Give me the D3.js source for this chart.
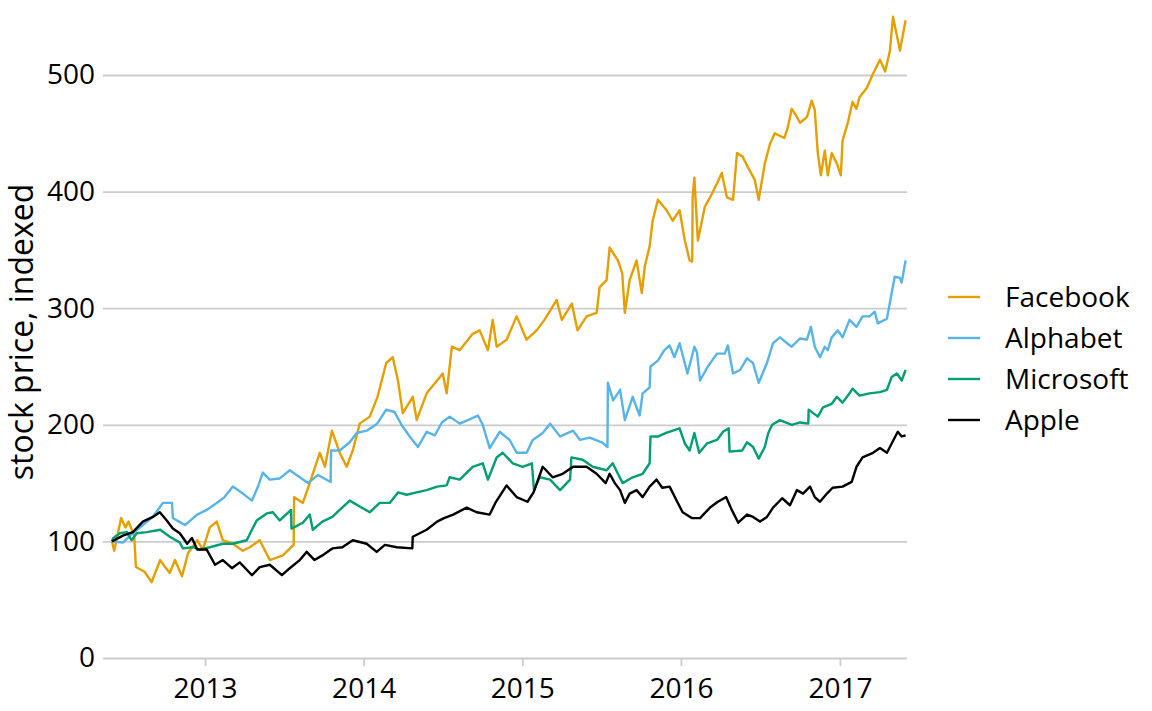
<!DOCTYPE html>
<html>
<head>
<meta charset="utf-8">
<script src="https://cdn.jsdelivr.net/npm/d3@7"></script>
<style>
  html, body { margin: 0; padding: 0; background: #fff; }
  svg text { font-family: "Open Sans", "Noto Sans", sans-serif; }
</style>
</head>
<body>
<svg id="chart" width="1152" height="711"></svg>
<script>
// ---------------- data ----------------
const seriesNames = ["Facebook", "Alphabet", "Microsoft", "Apple"];
const yTicks = [0, 100, 200, 300, 400, 500];
const xTickYears = ["2013", "2014", "2015", "2016", "2017"];
const yTitle = "stock price, indexed";

const facebook = [
["2012-06-01",100],["2012-06-06",92],["2012-06-22",120],["2012-07-02",112],["2012-07-09",117],["2012-07-22",105],["2012-07-26",78],["2012-08-15",74],["2012-08-31",65],["2012-09-20",84],["2012-10-01",78],["2012-10-12",73],["2012-10-24",84],["2012-11-09",70],["2012-11-23",90],["2012-12-14",101],["2012-12-27",93],["2013-01-12",112],["2013-01-28",117],["2013-02-11",101],["2013-03-06",98],["2013-03-29",92],["2013-04-14",95],["2013-05-07",101],["2013-05-30",84],["2013-06-29",88],["2013-07-24",97],["2013-07-25",138],["2013-08-14",133],["2013-08-30",150],["2013-09-22",176],["2013-10-04",164],["2013-10-20",195],["2013-11-07",176],["2013-11-23",164],["2013-12-07",178],["2013-12-23",201],["2014-01-15",207],["2014-02-02",224],["2014-02-22",253],["2014-03-09",258],["2014-03-21",238],["2014-04-01",210],["2014-04-24",224],["2014-05-03",204],["2014-05-26",227],["2014-06-19",238],["2014-07-02",244],["2014-07-11",227],["2014-07-23",267],["2014-08-10",264],["2014-09-09",278],["2014-09-25",281],["2014-10-14",264],["2014-10-25",290],["2014-11-03",267],["2014-11-26",273],["2014-12-19",293],["2015-01-11",273],["2015-02-03",281],["2015-02-21",290],["2015-03-21",307],["2015-04-02",290],["2015-04-25",304],["2015-05-08",281],["2015-05-29",293],["2015-06-21",296],["2015-06-28",318],["2015-07-14",324],["2015-07-21",352],["2015-08-09",341],["2015-08-19",330],["2015-08-25",296],["2015-09-05",324],["2015-09-21",341],["2015-10-03",313],["2015-10-10",336],["2015-10-21",353],["2015-10-28",375],["2015-11-09",393],["2015-11-29",384],["2015-12-13",375],["2015-12-29",384],["2016-01-10",358],["2016-01-21",341],["2016-01-27",340],["2016-01-28",395],["2016-02-01",412],["2016-02-09",358],["2016-02-25",387],["2016-03-08",395],["2016-03-24",407],["2016-04-04",416],["2016-04-16",395],["2016-04-30",393],["2016-05-09",433],["2016-05-22",430],["2016-06-03",421],["2016-06-19",410],["2016-06-28",393],["2016-07-12",424],["2016-07-24",441],["2016-08-04",450],["2016-08-26",446],["2016-09-03",455],["2016-09-12",471],["2016-09-24",464],["2016-10-01",459],["2016-10-17",464],["2016-10-28",478],["2016-11-04",470],["2016-11-11",433],["2016-11-18",414],["2016-11-27",435],["2016-12-04",414],["2016-12-13",433],["2016-12-25",424],["2017-01-03",414],["2017-01-07",444],["2017-01-19",459],["2017-01-30",477],["2017-02-08",471],["2017-02-15",481],["2017-03-04",489],["2017-03-18",501],["2017-04-03",513],["2017-04-15",503],["2017-04-26",521],["2017-05-03",550],["2017-05-19",521],["2017-06-01",547]
];

const alphabet = [
["2012-06-01",100],["2012-06-26",99],["2012-07-19",107],["2012-08-11",114],["2012-09-03",121],["2012-09-26",133],["2012-10-17",133],["2012-10-19",120],["2012-10-28",118],["2012-11-16",114],["2012-12-14",123],["2013-01-05",127],["2013-01-28",133],["2013-02-15",138],["2013-03-06",147],["2013-03-29",141],["2013-04-19",135],["2013-05-03",147],["2013-05-14",159],["2013-05-30",153],["2013-06-22",154],["2013-07-15",161],["2013-08-07",155],["2013-08-26",150],["2013-09-18",157],["2013-10-17",151],["2013-10-18",178],["2013-11-07",178],["2013-11-30",185],["2013-12-16",193],["2014-01-08",195],["2014-02-01",201],["2014-02-22",213],["2014-03-13",211],["2014-03-29",200],["2014-04-17",190],["2014-05-06",181],["2014-05-26",194],["2014-06-14",191],["2014-06-30",202],["2014-07-18",207],["2014-08-10",201],["2014-08-29",204],["2014-09-21",208],["2014-10-02",200],["2014-10-18",180],["2014-11-10",194],["2014-12-03",187],["2014-12-19",176],["2015-01-11",176],["2015-01-25",187],["2015-02-17",193],["2015-03-06",201],["2015-03-29",190],["2015-04-28",195],["2015-05-14",187],["2015-06-05",189],["2015-07-03",185],["2015-07-16",181],["2015-07-17",236],["2015-07-29",221],["2015-08-14",230],["2015-08-25",204],["2015-09-12",224],["2015-09-28",208],["2015-10-05",227],["2015-10-21",232],["2015-10-23",250],["2015-11-09",255],["2015-11-24",264],["2015-12-06",268],["2015-12-17",258],["2015-12-29",270],["2016-01-16",244],["2016-02-01",267],["2016-02-07",262],["2016-02-14",238],["2016-03-03",250],["2016-03-24",261],["2016-04-11",261],["2016-04-18",268],["2016-04-30",244],["2016-05-16",247],["2016-06-01",257],["2016-06-15",253],["2016-06-28",236],["2016-07-17",253],["2016-07-31",270],["2016-08-16",275],["2016-09-01",270],["2016-09-12",267],["2016-10-01",274],["2016-10-17",273],["2016-10-26",284],["2016-11-04",267],["2016-11-16",258],["2016-11-27",267],["2016-12-04",264],["2016-12-13",275],["2016-12-27",281],["2017-01-07",275],["2017-01-23",290],["2017-02-08",284],["2017-02-22",293],["2017-03-10",293],["2017-03-22",297],["2017-03-29",287],["2017-04-19",291],["2017-04-30",313],["2017-05-07",327],["2017-05-19",326],["2017-05-23",322],["2017-06-01",341]
];

const microsoft = [
["2012-06-01",100],["2012-06-04",103],["2012-06-19",107],["2012-07-05",108],["2012-07-16",101],["2012-07-28",107],["2012-08-20",108],["2012-09-20",110],["2012-10-12",104],["2012-11-04",99],["2012-11-11",94],["2012-12-04",95],["2012-12-20",93],["2013-01-12",95],["2013-02-11",98],["2013-03-06",98],["2013-04-07",101],["2013-04-19",110],["2013-04-30",118],["2013-05-23",124],["2013-06-06",125],["2013-06-22",118],["2013-07-18",127],["2013-07-19",111],["2013-08-14",116],["2013-08-30",123],["2013-09-06",110],["2013-09-28",117],["2013-10-21",121],["2013-11-07",127],["2013-11-30",135],["2013-12-23",130],["2014-01-15",125],["2014-02-07",133],["2014-03-02",133],["2014-03-21",142],["2014-04-10",140],["2014-05-03",142],["2014-05-26",144],["2014-06-19",147],["2014-07-11",148],["2014-07-18",155],["2014-08-10",153],["2014-09-09",164],["2014-10-02",167],["2014-10-14",153],["2014-11-03",172],["2014-11-17",176],["2014-12-10",167],["2015-01-02",164],["2015-01-23",167],["2015-01-28",144],["2015-02-10",155],["2015-03-06",153],["2015-03-29",144],["2015-04-21",153],["2015-04-24",172],["2015-05-20",170],["2015-06-12",164],["2015-07-14",161],["2015-07-28",167],["2015-08-20",150],["2015-09-12",155],["2015-10-05",158],["2015-10-21",167],["2015-10-23",190],["2015-11-10",190],["2015-11-28",193],["2015-12-29",197],["2016-01-10",184],["2016-01-21",178],["2016-02-01",193],["2016-02-12",176],["2016-03-01",184],["2016-03-24",187],["2016-04-07",194],["2016-04-20",197],["2016-04-22",177],["2016-05-21",178],["2016-06-01",185],["2016-06-15",181],["2016-06-28",171],["2016-07-12",181],["2016-07-20",193],["2016-07-29",200],["2016-08-16",204],["2016-09-12",200],["2016-10-01",202],["2016-10-20",201],["2016-10-21",213],["2016-11-11",207],["2016-11-23",215],["2016-12-13",218],["2016-12-25",224],["2017-01-07",219],["2017-01-23",227],["2017-01-30",231],["2017-02-15",225],["2017-03-10",227],["2017-04-03",228],["2017-04-19",230],["2017-04-30",241],["2017-05-12",244],["2017-05-23",238],["2017-06-01",247]
];

const apple = [
["2012-06-01",100],["2012-06-26",105],["2012-07-19",108],["2012-08-11",117],["2012-09-03",121],["2012-09-19",125],["2012-10-05",118],["2012-10-19",111],["2012-11-04",107],["2012-11-21",98],["2012-12-02",103],["2012-12-14",93],["2013-01-05",93],["2013-01-24",80],["2013-02-11",84],["2013-03-04",77],["2013-03-22",82],["2013-04-19",71],["2013-05-07",78],["2013-05-30",80],["2013-06-27",71],["2013-07-15",77],["2013-08-07",84],["2013-08-23",91],["2013-09-10",84],["2013-09-28",88],["2013-10-21",94],["2013-11-13",95],["2013-12-07",101],["2014-01-08",98],["2014-01-31",91],["2014-02-19",97],["2014-03-18",95],["2014-04-23",94],["2014-04-24",104],["2014-05-26",110],["2014-06-19",117],["2014-07-05",120],["2014-07-26",123],["2014-08-26",129],["2014-09-18",125],["2014-10-18",123],["2014-10-31",133],["2014-11-26",148],["2014-12-19",138],["2015-01-13",134],["2015-01-27",142],["2015-02-17",164],["2015-03-12",155],["2015-04-04",158],["2015-04-28",164],["2015-05-29",164],["2015-06-21",158],["2015-07-12",150],["2015-07-21",158],["2015-08-02",150],["2015-08-14",144],["2015-08-25",133],["2015-09-05",141],["2015-09-21",144],["2015-10-05",138],["2015-10-21",147],["2015-11-06",153],["2015-11-19",146],["2015-12-06",147],["2015-12-22",135],["2016-01-05",125],["2016-01-26",120],["2016-02-14",120],["2016-03-08",129],["2016-03-26",134],["2016-04-14",138],["2016-04-27",127],["2016-05-12",116],["2016-06-01",123],["2016-06-15",121],["2016-07-01",117],["2016-07-17",121],["2016-07-31",129],["2016-08-21",137],["2016-09-08",131],["2016-09-24",144],["2016-10-08",141],["2016-10-24",147],["2016-11-04",138],["2016-11-16",134],["2016-12-02",141],["2016-12-15",146],["2017-01-07",147],["2017-01-28",151],["2017-02-08",164],["2017-02-22",172],["2017-03-18",176],["2017-04-03",180],["2017-04-19",176],["2017-04-30",184],["2017-05-14",194],["2017-05-23",190],["2017-06-01",191]
];

// ---------------- chart ----------------
const parse = d3.utcParse("%Y-%m-%d");
const seriesData = [facebook, alphabet, microsoft, apple].map((arr, i) => ({
  name: seriesNames[i],
  values: arr.map(([d, v]) => ({ date: parse(d), value: v }))
}));

const colors = d3.scaleOrdinal().domain(seriesNames)
  .range(["#E69F00", "#56B4E9", "#009E73", "#000000"]);

const svg = d3.select("#chart");
const panelLeft = 103, panelRight = 907;

const x = d3.scaleUtc()
  .domain([parse("2012-06-01"), parse("2017-06-01")])
  .range([112, 905.6]);
const y = d3.scaleLinear().domain([0, 500]).range([658, 75]);

const gridColor = "#cccccc";
const fontSize = 28;

// y axis with gridlines
const yAxis = svg.append("g")
  .attr("transform", `translate(${panelLeft},0)`)
  .call(d3.axisLeft(y).tickValues(yTicks).tickSize(-(panelRight - panelLeft)).tickPadding(8));
yAxis.select(".domain").remove();
yAxis.selectAll(".tick line").attr("stroke", gridColor).attr("stroke-width", 1.8);
yAxis.selectAll(".tick text").attr("font-size", fontSize).attr("fill", "#000")
  .attr("font-family", "'Open Sans', sans-serif");

// x axis
const xAxis = svg.append("g")
  .attr("transform", `translate(0,${y(0)})`)
  .call(d3.axisBottom(x)
    .tickValues(xTickYears.map(s => parse(s + "-01-01")))
    .tickFormat(d3.utcFormat("%Y"))
    .tickSize(8).tickPadding(12));
xAxis.select(".domain").remove();
xAxis.selectAll(".tick line").attr("stroke", gridColor).attr("stroke-width", 1.8);
xAxis.selectAll(".tick text").attr("font-size", fontSize).attr("fill", "#000")
  .attr("font-family", "'Open Sans', sans-serif");

// y title
svg.append("text")
  .attr("transform", `translate(33,332) rotate(-90)`)
  .attr("text-anchor", "middle")
  .attr("font-size", 32)
  .attr("fill", "#000")
  .text(yTitle);

// lines
const line = d3.line().x(d => x(d.date)).y(d => y(d.value));
svg.append("g").selectAll("path")
  .data(seriesData)
  .join("path")
  .attr("fill", "none")
  .attr("stroke", d => colors(d.name))
  .attr("stroke-width", 2.4)
  .attr("stroke-linejoin", "round")
  .attr("d", d => line(d.values));

// legend
const legend = svg.append("g").attr("transform", "translate(948,297)");
const items = legend.selectAll("g").data(seriesNames).join("g")
  .attr("transform", (d, i) => `translate(0,${i * 41})`);
items.append("line").attr("x1", 0).attr("x2", 32).attr("y1", 0).attr("y2", 0)
  .attr("stroke", d => colors(d)).attr("stroke-width", 2.4);
items.append("text").attr("x", 57).attr("y", 0).attr("dy", "0.36em")
  .attr("font-size", fontSize).attr("fill", "#000").text(d => d);
</script>
</body>
</html>
